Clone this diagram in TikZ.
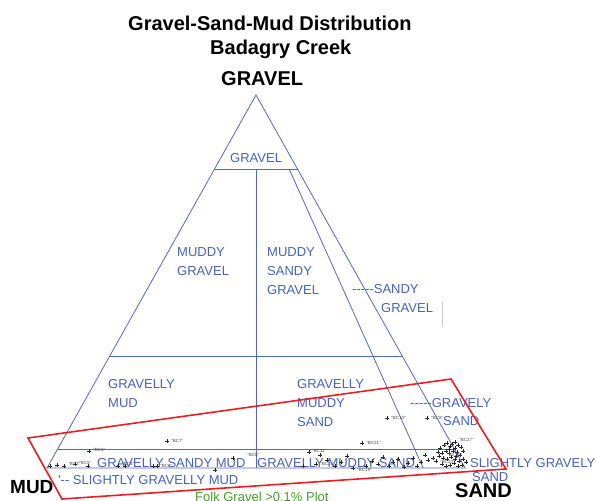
\documentclass[tikz,border=0pt]{standalone}
\usepackage{fontspec}
\setmainfont{Liberation Sans}
\newfontfamily\lsans{Liberation Sans}
\usetikzlibrary{calc}
\definecolor{folkblue}{RGB}{70,98,186}
\definecolor{folkline}{RGB}{84,104,190}
\definecolor{folkred}{RGB}{234,30,34}
\definecolor{folkgreen}{RGB}{70,160,42}
\newcommand\hy{-\kern0pt}
\begin{document}
\begin{tikzpicture}[x=1pt,y=-1pt,
  zone/.style={text=folkblue,font=\lsans\fontsize{13}{15}\selectfont,anchor=base west,inner sep=0pt},
  ttl/.style={text=black,font=\lsans\bfseries\fontsize{20}{22}\selectfont,anchor=base west,inner sep=0pt},
  field/.style={draw=folkline,line width=0.8pt},
  plotbox/.style={draw=folkred,line width=1.6pt,line join=miter},
  ptx/.style={draw=black!85,line width=0.5pt},
  ptlab/.style={font=\lsans\fontsize{4.5}{5}\selectfont,inner sep=0pt,text=black!70,anchor=west},
]
\useasboundingbox (0,0) rectangle (596,500);

% titles
\node[ttl] (title1) at (128,31) {Gravel-Sand-Mud Distribution};
\node[ttl] (title2) at (210,55) {Badagry Creek};
\node[ttl] (apexlab) at (221,85) {GRAVEL};
\node[ttl,font=\lsans\bfseries\fontsize{19}{20}\selectfont] (mudlab) at (10,493) {MUD};
\node[ttl] (sandlab) at (455,497) {SAND};

% triangle
\coordinate (A) at (256,95);
\coordinate (L) at (47,468);
\coordinate (R) at (465,468);
\coordinate (M) at ($(L)!0.5!(R)$);
\coordinate (N) at ($(L)!0.9!(R)$);
\coordinate (l80) at ($(L)!0.8!(A)$);
\coordinate (r80) at ($(R)!0.8!(A)$);
\coordinate (l30) at ($(L)!0.3!(A)$);
\coordinate (r30) at ($(R)!0.3!(A)$);
\coordinate (l05) at ($(L)!0.05!(A)$);
\coordinate (r05) at ($(R)!0.05!(A)$);
\coordinate (m80) at ($(M)!0.8!(A)$);
\coordinate (n80) at ($(N)!0.8!(A)$);

\draw[field] (A) -- (L) -- (R) -- cycle;
\draw[field] (l80) -- (r80);
\draw[field] (l30) -- (r30);
\draw[field] (l05) -- (r05);
\draw[field] (m80) -- (M);
\draw[field] (n80) -- (N);

% stray grey mark
\coordinate (g1) at (442,302);
\coordinate (g2) at (442,327);
\draw[black!20,line width=0.8pt] (g1) -- (g2);

% field labels
\node[zone] (gv) at (230,162) {GRAVEL};
\node[zone] (mg1) at (177,256) {MUDDY};
\node[zone] (mg2) at (177,275) {GRAVEL};
\node[zone] (msg1) at (267,256) {MUDDY};
\node[zone] (msg2) at (267,275) {SANDY};
\node[zone] (msg3) at (267,294) {GRAVEL};
\node[zone] (sg1) at (352,293) {\hy\hy\hy\hy\hy SANDY};
\node[zone] (sg2) at (381,312) {GRAVEL};
\node[zone] (gm1) at (108,388) {GRAVELLY};
\node[zone] (gm2) at (108,407) {MUD};
\node[zone] (gms1) at (297,388) {GRAVELLY};
\node[zone] (gms2) at (297,407) {MUDDY};
\node[zone] (gms3) at (297,426) {SAND};
\node[zone] (gs1) at (410,407) {\hy\hy\hy\hy\hy GRAVELY};
\node[zone] (gs2) at (443,425) {SAND};
\node[zone] (gsm) at (97,467) {GRAVELLY SANDY MUD};
\node[zone] (gmsd) at (257,467) {GRAVELLY MUDDY SAND};
\node[zone] (sgm) at (58,484) {'\hy\hy{} SLIGHTLY GRAVELLY MUD};
\node[zone] (sgs1) at (470,467) {SLIGHTLY GRAVELY};
\node[zone] (sgs2) at (472,481) {SAND};

% sample points
\foreach \x/\y in {167/441,89/451,387/418,427/418,362/443,455/442,
  50/466,57/465,64/466,75/464,88/466,118/466,125/466,153/466,157/466,233/458,
  215/470,303/466,309/452,316/464,320/455,327/460,335/466,341/462,347/456,
  353/468,366/466,372/461,378/464,383/457,389/466,393/462,398/459,404/467,
  408/463,413/458,417/466,421/462,425/455,428/460,433/458,436/461,
  440/448,444/445,447/443,450/446,452/444,455/448,458/445,461/447,
  446/451,449/453,453/451,457/452,460/455,463/451,439/456,443/458,
  447/459,451/457,455/459,459/461,463/459,466/462,442/464,446/466,
  450/465,454/463,458/466,462/465,438/452,442/453,449/449,456/456}
  \draw[ptx] (\x-1.6,\y) -- (\x+1.6,\y) (\x,\y-1.6) -- (\x,\y+1.6);

\node[ptlab] (b7) at (171,441) {"BC7"};
\node[ptlab] (b1) at (93,450) {"BC1"};
\node[ptlab] (b10) at (391,418) {"BC10"};
\node[ptlab] (b8) at (431,418) {"BC8"};
\node[ptlab] (b21) at (366,443) {"BC21"};
\node[ptlab] (b27) at (459,440) {"BC27"};
\node[ptlab] (b3) at (68,464) {"BC3"};
\node[ptlab] (b5) at (79,463) {"BC5"};
\node[ptlab] (b4) at (122,464) {"BC4"};
\node[ptlab] (b2) at (160,466) {"BC2"};
\node[ptlab] (b6) at (247,455) {"BC6"};
\node[ptlab] (b11) at (312,451) {"BC11"};
\node[ptlab] (b14) at (320,464) {"BC14"};
\node[ptlab] (b19) at (357,470) {"BC19"};
\node[ptlab] (b23) at (440,462) {"BC23"};
\node[ptlab] (b25) at (447,455) {"BC25"};

% plotted region
\coordinate (q1) at (28,438);
\coordinate (q2) at (451,379);
\coordinate (q3) at (506,469);
\coordinate (q4) at (62,499);
\draw[plotbox] (q1) -- (q2) -- (q3) -- (q4) -- cycle;

\node[zone,text=folkgreen] (folk) at (195,501) {Folk Gravel >0.1\% Plot};
\end{tikzpicture}
\end{document}
